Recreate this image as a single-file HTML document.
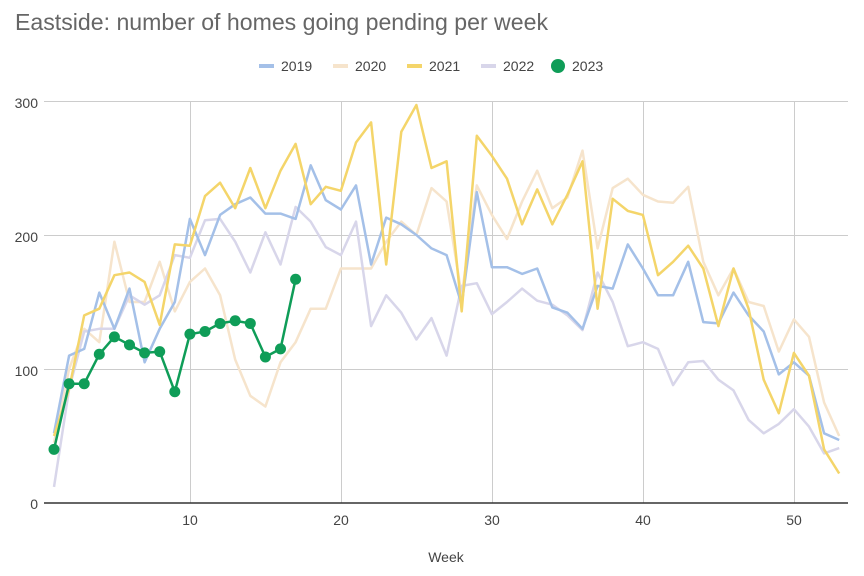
<!DOCTYPE html>
<html><head><meta charset="utf-8"><style>body{margin:0;background:#fff}svg{display:block}</style></head>
<body>
<svg width="864" height="576" xmlns="http://www.w3.org/2000/svg" font-family="Liberation Sans, sans-serif">
<text x="15" y="30" font-size="23" fill="#666" textLength="533" lengthAdjust="spacingAndGlyphs">Eastside: number of homes going pending per week</text>
<g font-size="14" fill="#444">
<line x1="259" y1="66" x2="274" y2="66" stroke="#a4c0e8" stroke-width="4"/><text x="281" y="71">2019</text>
<line x1="333" y1="66" x2="348" y2="66" stroke="#f6e4cc" stroke-width="4"/><text x="355" y="71">2020</text>
<line x1="407" y1="66" x2="422" y2="66" stroke="#f4d56a" stroke-width="4"/><text x="429" y="71">2021</text>
<line x1="481" y1="66" x2="496" y2="66" stroke="#d8d6ea" stroke-width="4"/><text x="503" y="71">2022</text>
<circle cx="558" cy="66" r="7" fill="#0f9d58"/><text x="572" y="71">2023</text>
</g>
<g stroke="#ccc" stroke-width="1">
<line x1="44" y1="101.5" x2="848" y2="101.5"/><line x1="44" y1="235.5" x2="848" y2="235.5"/><line x1="44" y1="369.5" x2="848" y2="369.5"/>
<line x1="190.5" y1="101" x2="190.5" y2="503"/><line x1="341.5" y1="101" x2="341.5" y2="503"/><line x1="492.5" y1="101" x2="492.5" y2="503"/><line x1="643.5" y1="101" x2="643.5" y2="503"/><line x1="794.5" y1="101" x2="794.5" y2="503"/>
</g>
<line x1="44" y1="503" x2="848" y2="503" stroke="#333" stroke-width="1.5"/>
<g font-size="14" fill="#444" text-anchor="end"><text x="38" y="108">300</text><text x="38" y="242">200</text><text x="38" y="376">100</text><text x="38" y="509">0</text></g>
<g font-size="14" fill="#444" text-anchor="middle"><text x="190" y="525">10</text><text x="341" y="525">20</text><text x="492" y="525">30</text><text x="643" y="525">40</text><text x="794" y="525">50</text><text x="446" y="562">Week</text></g>
<g id="s" fill="none" stroke-width="2.5" stroke-linejoin="round"></g>
<script>
const d={
"#f6e4cc":[45,100,130,120,195,150,150,180,143,165,175,155,107,80,72,105,120,145,145,175,175,175,195,210,200,235,225,155,237,215,197,225,248,220,228,263,190,235,242,230,225,224,236,180,155,175,150,147,113,137,124,75,50],
"#d8d6ea":[12,85,128,130,130,155,148,155,185,183,211,212,195,172,202,178,221,210,191,185,210,132,155,142,122,138,110,162,164,141,150,160,151,148,140,129,172,150,117,120,115,88,105,106,92,84,62,52,59,70,57,37,41],
"#a4c0e8":[52,110,115,157,130,160,105,130,150,212,185,215,223,228,216,216,212,252,226,219,237,178,213,208,200,190,185,148,232,176,176,171,175,146,142,130,162,160,193,175,155,155,180,135,134,157,140,128,96,105,95,52,47],
"#f4d56a":[50,85,140,145,170,172,165,133,193,192,229,239,220,250,220,248,268,223,236,233,269,284,178,277,297,250,255,143,274,259,242,208,234,208,230,255,145,227,218,215,170,180,192,175,132,175,145,92,67,112,95,40,22],
"#0f9d58":[40,89,89,111,124,118,112,113,83,126,128,134,136,134,109,115,167]};
const g=document.getElementById('s');const X=w=>54+(w-1)*15.1,Y=v=>503-v*1.34;
for(const c in d){const p=d[c].map((v,i)=>X(i+1).toFixed(1)+','+Y(v).toFixed(1)).join(' ');
const l=document.createElementNS('http://www.w3.org/2000/svg','polyline');l.setAttribute('points',p);l.setAttribute('stroke',c);g.appendChild(l);
if(c=="#0f9d58")d[c].forEach((v,i)=>{const e=document.createElementNS('http://www.w3.org/2000/svg','circle');e.setAttribute('cx',X(i+1));e.setAttribute('cy',Y(v));e.setAttribute('r',5.5);e.setAttribute('fill',c);e.setAttribute('stroke','none');g.appendChild(e);});}
</script>
</svg>
</body></html>
